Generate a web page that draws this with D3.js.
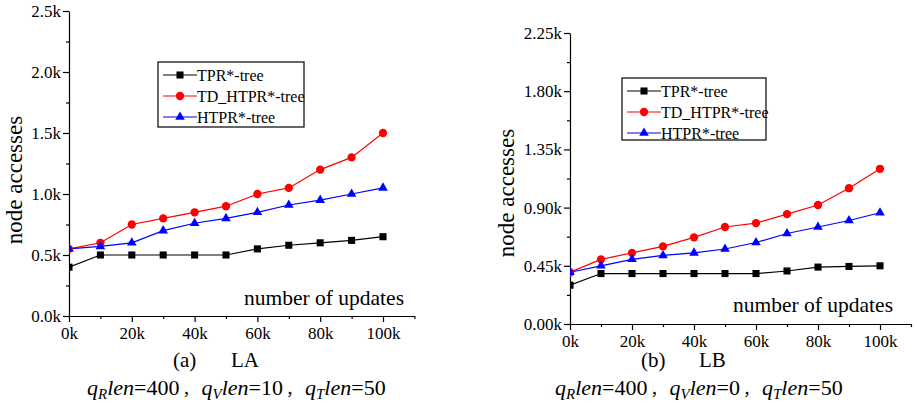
<!DOCTYPE html>
<html>
<head>
<meta charset="utf-8">
<script src="https://cdn.jsdelivr.net/npm/d3@7"></script>
<style>
  body { margin: 0; background: #fff; }
  svg { display: block; }
  svg text { font-family: "Liberation Serif", "Times New Roman", serif; }
</style>
</head>
<body>
<div id="svg-chart"></div>
<script>
// updates (x values), shared by both panels
var updates = [0, 10000, 20000, 30000, 40000, 50000, 60000, 70000, 80000, 90000, 100000];
var seriesNames = ["TPR*-tree", "TD_HTPR*-tree", "HTPR*-tree"];

// panel (a) LA
var laTPR   = [400, 500, 500, 500, 500, 500, 550, 580, 600, 620, 650];
var laTD    = [550, 600, 750, 800, 850, 900, 1000, 1050, 1200, 1300, 1500];
var laHTPR  = [550, 570, 600, 700, 760, 800, 850, 910, 950, 1000, 1050];

// panel (b) LB
var lbTPR   = [300, 390, 390, 390, 390, 390, 390, 410, 440, 445, 450];
var lbTD    = [400, 500, 550, 600, 670, 750, 780, 850, 920, 1050, 1200];
var lbHTPR  = [400, 450, 500, 530, 550, 580, 630, 700, 750, 800, 860];

// ticks
var xTicks = [0, 20000, 40000, 60000, 80000, 100000];
var xMinor = [10000, 30000, 50000, 70000, 90000, 110000];
var laYTicks = [0, 500, 1000, 1500, 2000, 2500];
var laYMinor = [250, 750, 1250, 1750, 2250];
var lbYTicks = [0, 450, 900, 1350, 1800, 2250];
var lbYMinor = [225, 675, 1125, 1575, 2025];

var colors = ["#000000", "#ff0000", "#0000ff"];
var shapes = [d3.symbolSquare, d3.symbolCircle, d3.symbolTriangle];
var shapeSize = [50, 54, 40];

var svg = d3.select("#svg-chart").append("svg")
    .attr("width", 917)
    .attr("height", 407);

function drawPanel(p) {
    var g = svg.append("g");

    var xScale = d3.scaleLinear().domain([0, 110000]).range([p.x0, p.x0 + (p.x1 - p.x0) * 1.1]);
    var yScale = d3.scaleLinear().domain([0, p.yMax]).range([p.yBottom, p.yTop]);

    // clip marks at the axis, like the original plot
    var clipId = "clip-" + p.id;
    svg.append("defs").append("clipPath").attr("id", clipId)
        .append("rect")
        .attr("x", p.x0).attr("y", 0)
        .attr("width", 400).attr("height", p.yBottom + 1);

    // y axis
    g.append("g")
        .attr("transform", `translate(${p.x0},0)`)
        .call(d3.axisLeft(yScale).tickValues(p.yMinor).tickSize(3).tickSizeOuter(0).tickFormat(""))
        .call(a => a.select(".domain").remove());
    g.append("g")
        .attr("transform", `translate(${p.x0},0)`)
        .call(d3.axisLeft(yScale).tickValues(p.yTicks).tickSize(6).tickSizeOuter(0).tickPadding(2)
            .tickFormat(d => d3.format(p.yFmt)(d / 1000) + "k"));

    // x axis
    g.append("g")
        .attr("transform", `translate(0,${p.yBottom})`)
        .call(d3.axisBottom(xScale).tickValues(xMinor).tickSize(3).tickSizeOuter(0).tickFormat(""))
        .call(a => a.select(".domain").remove());
    g.append("g")
        .attr("transform", `translate(0,${p.yBottom})`)
        .call(d3.axisBottom(xScale).tickValues(xTicks).tickSize(6).tickSizeOuter(0).tickPadding(5)
            .tickFormat(d => (d / 1000) + "k"));

    g.selectAll("g").attr("font-family", null).attr("font-size", 17);
    g.selectAll(".domain, .tick line").attr("stroke", "#000").attr("stroke-width", 1.2);

    // axis titles
    g.append("text")
        .attr("transform", "rotate(-90)")
        .attr("x", -p.yLabelY)
        .attr("y", p.yLabelX)
        .attr("text-anchor", "middle")
        .attr("dominant-baseline", "central")
        .attr("font-size", 23)
        .text("node accesses");

    g.append("text")
        .attr("x", p.xLabelRight)
        .attr("y", p.xLabelBase)
        .attr("text-anchor", "end")
        .attr("font-size", 21.5)
        .text("number of updates");

    // series
    var line = d3.line()
        .x((d, i) => xScale(updates[i]))
        .y(d => yScale(d));

    var plot = g.append("g").attr("clip-path", `url(#${clipId})`);
    p.series.forEach(function(vals, s) {
        plot.append("path")
            .datum(vals)
            .attr("fill", "none")
            .attr("stroke", colors[s])
            .attr("stroke-width", 1.2)
            .attr("d", line);
    });
    p.series.forEach(function(vals, s) {
        plot.selectAll(null)
            .data(vals)
            .enter()
            .append("path")
            .attr("transform", (d, i) => `translate(${xScale(updates[i])},${yScale(d)})`)
            .attr("d", d3.symbol().type(shapes[s]).size(shapeSize[s]))
            .attr("fill", colors[s]);
    });

    // legend
    var lg = g.append("g").attr("transform", `translate(${p.legend.x},${p.legend.y})`);
    lg.append("rect")
        .attr("width", p.legend.w)
        .attr("height", p.legend.h)
        .attr("fill", "#fff")
        .attr("stroke", "#000")
        .attr("stroke-width", 1.2);
    seriesNames.forEach(function(name, s) {
        var yy = 13 + s * 21;
        lg.append("line")
            .attr("x1", 5).attr("x2", 39)
            .attr("y1", yy).attr("y2", yy)
            .attr("stroke", colors[s])
            .attr("stroke-width", 1.1);
        lg.append("path")
            .attr("transform", `translate(22,${yy})`)
            .attr("d", d3.symbol().type(shapes[s]).size(shapeSize[s]))
            .attr("fill", colors[s]);
        lg.append("text")
            .attr("x", 39)
            .attr("y", yy)
            .attr("dy", "0.35em")
            .attr("font-size", 16)
            .text(name);
    });

    // captions
    g.append("text")
        .attr("x", p.capX)
        .attr("y", 367)
        .attr("font-size", 21)
        .text(p.capTag);
    g.append("text")
        .attr("x", p.capX + 58)
        .attr("y", 367)
        .attr("font-size", 21)
        .text(p.capName);

    var cap = g.append("text")
        .attr("x", p.cap2X)
        .attr("y", 395)
        .attr("font-size", 22);
    p.params.forEach(function(prm, k) {
        cap.append("tspan").attr("font-style", "italic").attr("dx", k > 0 ? 3 : 0).text("q");
        cap.append("tspan").attr("font-style", "italic").attr("font-size", 15)
            .attr("dy", 4).text(prm[0]);
        cap.append("tspan").attr("font-style", "italic").attr("dy", -4).text("len");
        cap.append("tspan").text("=" + prm[1]);
        if (k < p.params.length - 1) {
            cap.append("tspan")
                .style("font-family", '"Noto Sans CJK SC"')
                .attr("font-size", 16)
                .attr("dx", 3)
                .text("\uFF0C");
        }
    });
}

drawPanel({
    id: "a", x0: 69, x1: 383, yTop: 11, yBottom: 316, yMax: 2500,
    yTicks: laYTicks, yMinor: laYMinor, yFmt: ".1f",
    series: [laTPR, laTD, laHTPR],
    yLabelX: 14, yLabelY: 180,
    xLabelRight: 404, xLabelBase: 305,
    legend: { x: 158, y: 62, w: 146, h: 65 },
    capX: 173, capTag: "(a)", capName: "LA",
    cap2X: 87, params: [["R", 400], ["V", 10], ["T", 50]]
});

drawPanel({
    id: "b", x0: 570, x1: 880, yTop: 33, yBottom: 324, yMax: 2250,
    yTicks: lbYTicks, yMinor: lbYMinor, yFmt: ".2f",
    series: [lbTPR, lbTD, lbHTPR],
    yLabelX: 506, yLabelY: 193,
    xLabelRight: 893, xLabelBase: 312,
    legend: { x: 622, y: 78, w: 144, h: 62 },
    capX: 641, capTag: "(b)", capName: "LB",
    cap2X: 555, params: [["R", 400], ["V", 0], ["T", 50]]
});
</script>
</body>
</html>
